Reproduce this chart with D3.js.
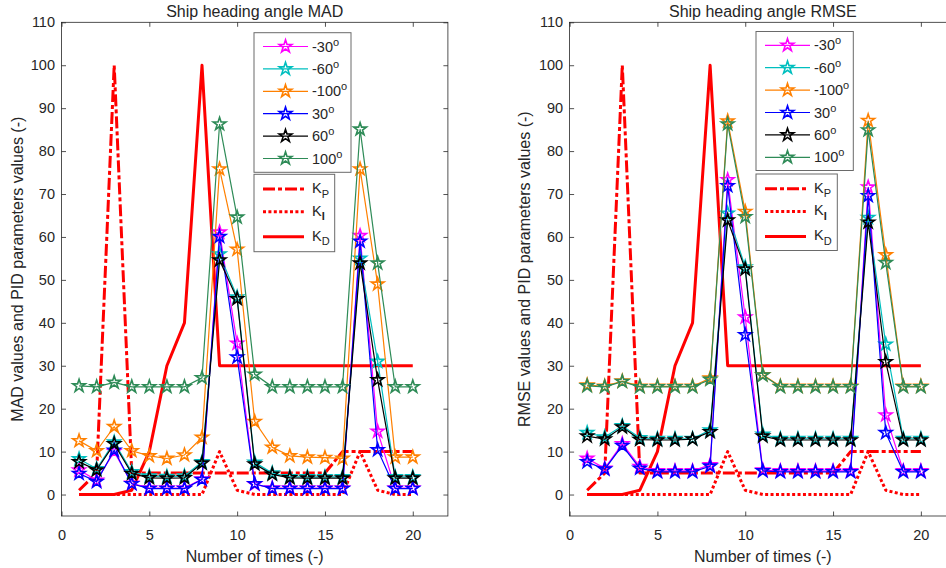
<!DOCTYPE html>
<html><head><meta charset="utf-8">
<script src="https://cdn.jsdelivr.net/npm/d3@7"></script>
<style>
body{margin:0;background:#fff}
svg{display:block;background:#fff}
text{font-family:"Liberation Sans",Arial,Helvetica,sans-serif;fill:#262626}
</style>
</head><body>
<svg id="chart" width="946" height="568"></svg>
<script>
// ---------- data ----------
const runs = [1,2,3,4,5,6,7,8,9,10,11,12,13,14,15,16,17,18,19,20];
const xTicks = [0,5,10,15,20];
const yTicks = [0,10,20,30,40,50,60,70,80,90,100,110];
const seriesLabels = ["-30","-60","-100","30","60","100"];
const seriesColors = ["#ff00ff","#00bfbf","#ff8000","#0000ff","#000000","#2e8b57"];
const pidLabels = ["P","I","D"];

// MAD values
const madNeg30  = [5.7,3.3,10.0,2.6,1.5,1.5,1.5,3.6,61.1,35.2,2.4,1.5,1.5,1.5,1.5,1.5,60.3,14.7,1.5,1.5];
const madNeg60  = [8.3,6.0,12.2,5.3,4.3,4.2,4.3,7.6,56.0,46.0,7.5,5.0,4.1,4.1,4.1,4.1,55.0,31.0,4.1,4.1];
const madNeg100 = [12.5,10.2,15.8,10.2,9.0,8.4,9.2,13.3,75.8,57.1,17.0,11.0,9.0,8.7,8.6,8.4,75.8,49.0,8.7,8.7];
const madPos30  = [4.9,3.0,10.3,2.5,1.4,1.4,1.4,3.5,60.1,32.0,2.5,1.4,1.4,1.4,1.4,1.4,59.0,10.4,1.4,1.4];
const madPos60  = [7.6,5.7,11.8,4.9,3.9,3.8,3.9,7.3,54.6,45.6,7.1,4.7,3.9,3.8,3.8,3.8,53.9,26.7,3.8,3.8];
const madPos100 = [25.3,25.1,26.1,25.1,25.1,25.1,25.1,27.2,86.3,64.6,28.0,25.1,25.1,25.1,25.1,25.1,85.1,53.9,25.1,25.1];

// RMSE values
const rmseNeg30  = [8.4,6.1,11.8,6.5,5.5,5.5,5.5,6.9,73.3,41.3,5.7,5.5,5.5,5.5,5.5,5.5,71.6,18.5,5.5,5.5];
const rmseNeg60  = [14.4,13.4,16.0,13.2,13.0,13.0,13.0,15.0,65.5,53.0,14.0,13.0,13.0,13.0,13.0,13.0,64.5,35.0,13.0,13.0];
const rmseNeg100 = [25.5,25.2,26.4,25.2,25.2,25.2,25.2,27.1,87.0,65.9,27.9,25.2,25.2,25.2,25.2,25.2,87.1,55.8,25.2,25.2];
const rmsePos30  = [7.6,5.9,11.4,6.1,5.3,5.3,5.3,6.6,71.9,37.2,5.5,5.3,5.3,5.3,5.3,5.3,69.6,14.4,5.3,5.3];
const rmsePos60  = [13.6,12.9,15.7,12.8,12.7,12.7,12.9,14.6,63.9,52.5,13.6,12.7,12.7,12.7,12.7,12.7,63.4,30.9,12.7,12.7];
const rmsePos100 = [25.3,25.1,26.3,25.1,25.1,25.1,25.1,26.8,86.3,64.7,27.8,25.1,25.1,25.1,25.1,25.1,84.9,54.0,25.1,25.1];

// PID parameters
const kp = [1,5,100,5,5,5,5,5,5,5,5,5,5,5,5,10,10,10,10,10];
const ki = [0,0,0,0,0,0,0,0,10,1,0,0,0,0,0,0,10,1,0,0];
const kd = [0,0,0,1,10,30,40,100,30,30,30,30,30,30,30,30,30,30,30,30];

// ---------- drawing ----------
const svg = d3.select("#chart");
const starPath = d3.symbol().type(d3.symbolStar).size(50)();

const panels = [
  {left:61.5, top:22.3, bottom:516, title:"Ship heading angle MAD",
   ylabel:"MAD values and PID parameters values (-)", ylabelX:17,
   series:[madNeg30,madNeg60,madNeg100,madPos30,madPos60,madPos100],
   legX:254, legY1:32.7, legH1:139.6, legW1:97, legY2:174.3, legH2:77.4, legW2:80.7},
  {left:569.6, top:22.3, bottom:516, title:"Ship heading angle RMSE",
   ylabel:"RMSE values and PID parameters values (-)", ylabelX:524,
   series:[rmseNeg30,rmseNeg60,rmseNeg100,rmsePos30,rmsePos60,rmsePos100],
   legX:756, legY1:31.5, legH1:139, legW1:97.3, legY2:174, legH2:76.5, legW2:81.3}
];

const pidStyles = [
  {data:kp, dash:"12,3,4,3"},
  {data:ki, dash:"3,2.4"},
  {data:kd, dash:null}
];

panels.forEach(p => {
  const x = d3.scaleLinear().domain([0,22]).range([p.left, p.left + 386.4]);
  const y = d3.scaleLinear().domain([-5,110]).range([p.bottom, p.top]);
  const g = svg.append("g");

  // axes
  const tl = 4.5;
  const xb = g.append("g").attr("transform",`translate(0,${p.bottom})`)
    .call(d3.axisBottom(x).tickValues(xTicks).tickSizeInner(-tl).tickSizeOuter(0).tickPadding(13.5));
  const xt = g.append("g").attr("transform",`translate(0,${p.top})`)
    .call(d3.axisTop(x).tickValues(xTicks).tickSizeInner(-tl).tickSizeOuter(0).tickFormat(""));
  const yl = g.append("g").attr("transform",`translate(${p.left},0)`)
    .call(d3.axisLeft(y).tickValues(yTicks).tickSizeInner(-tl).tickSizeOuter(0).tickPadding(6.5));
  const yr = g.append("g").attr("transform",`translate(${p.left+386.4},0)`)
    .call(d3.axisRight(y).tickValues(yTicks).tickSizeInner(-tl).tickSizeOuter(0).tickFormat(""));
  [xb,xt,yl,yr].forEach(a => {
    a.select(".domain").remove();
    a.selectAll("line").attr("stroke","#262626").attr("stroke-width",0.8);
    a.selectAll("text").attr("font-size",14.5).attr("fill","#262626")
      .attr("font-family",'"Liberation Sans",Arial,sans-serif');
  });
  g.append("rect").attr("x",p.left).attr("y",p.top)
    .attr("width",386.4).attr("height",p.bottom-p.top)
    .attr("fill","none").attr("stroke","#262626").attr("stroke-width",0.8);

  // titles and labels
  g.append("text").attr("x",p.left+193.2).attr("y",17.3).attr("text-anchor","middle")
    .attr("font-size",16).text(p.title);
  g.append("text").attr("x",p.left+193.2).attr("y",561.5).attr("text-anchor","middle")
    .attr("font-size",16).text("Number of times (-)");
  g.append("text").attr("transform",`translate(${p.ylabelX},${(p.top+p.bottom)/2}) rotate(-90)`)
    .attr("text-anchor","middle").attr("dy","0.35em").attr("font-size",16).text(p.ylabel);

  const line = d3.line().x((d,i)=>x(runs[i])).y(d=>y(d));

  // PID lines
  pidStyles.forEach(s => {
    g.append("path").attr("d",line(s.data)).attr("fill","none")
      .attr("stroke","#ff0000").attr("stroke-width",3)
      .attr("stroke-dasharray",s.dash).attr("stroke-linejoin","round");
  });

  // series
  p.series.forEach((vals,k) => {
    const c = seriesColors[k];
    g.append("path").attr("d",line(vals)).attr("fill","none")
      .attr("stroke",c).attr("stroke-width",1.2);
    g.selectAll(null).data(vals).enter().append("path")
      .attr("d",starPath)
      .attr("transform",(d,i)=>`translate(${x(runs[i])},${y(d)})`)
      .attr("fill","none").attr("stroke",c).attr("stroke-width",1.6);
  });

  // legend 1
  const L = g.append("g");
  L.append("rect").attr("x",p.legX).attr("y",p.legY1).attr("width",p.legW1).attr("height",p.legH1)
    .attr("fill","#fff").attr("stroke","#6a6a6a").attr("stroke-width",1);
  seriesLabels.forEach((lab,k) => {
    const yy = p.legY1 + 13.8 + k*22.4;
    L.append("line").attr("x1",p.legX+9).attr("x2",p.legX+54).attr("y1",yy).attr("y2",yy)
      .attr("stroke",seriesColors[k]).attr("stroke-width",1.2);
    L.append("path").attr("d",starPath).attr("transform",`translate(${p.legX+31.5},${yy})`)
      .attr("fill","none").attr("stroke",seriesColors[k]).attr("stroke-width",1.6);
    const t = L.append("text").attr("x",p.legX+58).attr("y",yy+5).attr("font-size",14.5);
    t.append("tspan").text(lab);
    t.append("tspan").attr("dy",-6).attr("font-size",11).text("o");
  });
  // legend 2
  L.append("rect").attr("x",p.legX).attr("y",p.legY2).attr("width",p.legW2).attr("height",p.legH2)
    .attr("fill","#fff").attr("stroke","#6a6a6a").attr("stroke-width",1);
  const pidY = [14.7, 37.4, 62.4];
  pidLabels.forEach((lab,k) => {
    const yy = p.legY2 + pidY[k];
    L.append("line").attr("x1",p.legX+9).attr("x2",p.legX+50).attr("y1",yy).attr("y2",yy)
      .attr("stroke","#ff0000").attr("stroke-width",3)
      .attr("stroke-dasharray",pidStyles[k].dash);
    const t = L.append("text").attr("x",p.legX+58).attr("y",yy+4).attr("font-size",14.5);
    t.append("tspan").text("K");
    t.append("tspan").attr("dy",4.5).attr("font-size",11)
      .attr("font-weight", lab==="I" ? "bold" : null).text(lab);
  });
});
</script>
</body></html>
